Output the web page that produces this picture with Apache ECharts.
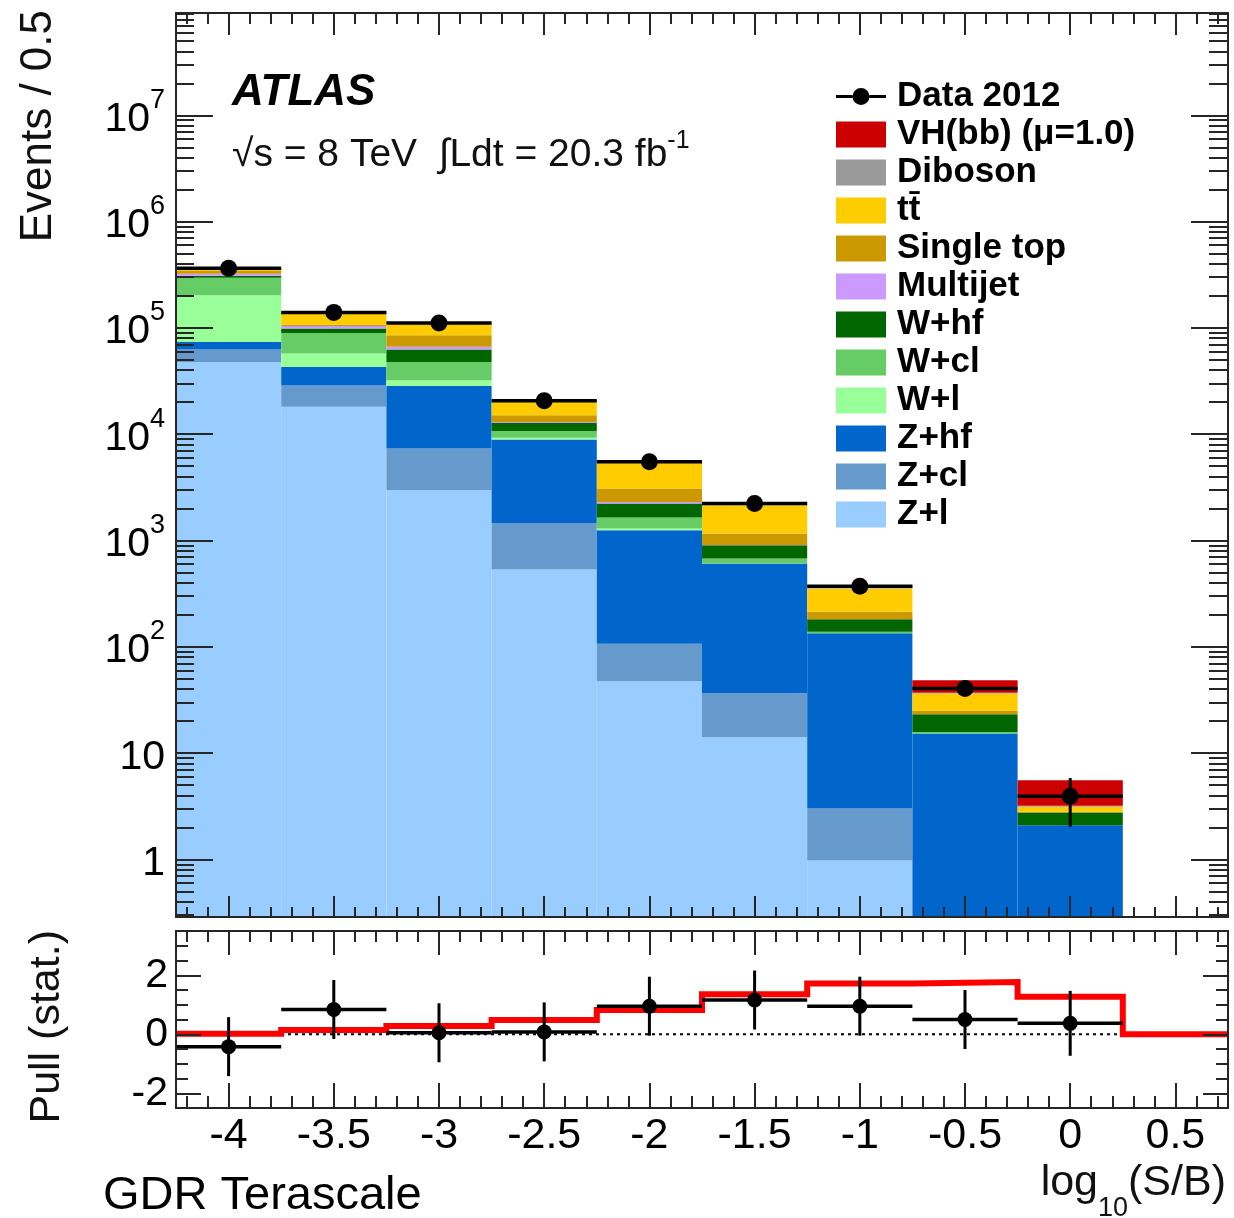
<!DOCTYPE html>
<html><head><meta charset="utf-8">
<script src="https://cdn.jsdelivr.net/npm/echarts@6/dist/echarts.min.js"></script>
<style>html,body{margin:0;padding:0;background:#fff}#c{width:1234px;height:1218px}</style>
</head><body><div id="c"></div>
<script>
// ---------- data ----------
const binCenters = [-4, -3.5, -3, -2.5, -2, -1.5, -1, -0.5, 0];
const binWidth = 0.5;
// background / signal components, events per bin (stack order bottom -> top)
const zl    = [47800, 18100, 2970, 534, 47.5, 14.1, 0.98, 0, 0];
const zcl   = [14700, 10600, 4360, 931, 59.5, 22.5, 2.04, 0, 0];
const zhf   = [11300, 14300, 21070, 7450, 1143, 571, 131, 15.3, 2.10];
const wl    = [129000, 14400, 3800, 350, 47, 5, 0.5, 0, 0];
const wcl   = [94000, 32200, 15700, 1480, 348, 65, 4, 0.5, 0];
const whf   = [13000, 9000, 14600, 2030, 583, 225, 43, 7.5, 0.67];
const mj    = [13000, 5400, 4000, 230, 79, 7, 0, 0, 0];
const stop  = [20000, 3000, 18800, 2100, 776, 254, 32, 1.8, 0.05];
const ttbar = [16000, 30000, 24700, 5000, 2287, 984, 141, 11.3, 0.31];
const dib   = [9000, 3000, 3000, 600, 140, 47, 14, 0.7, 0.07];
const vh    = [100, 50, 60, 30, 15, 12, 12, 11.4, 2.37];
// data 2012
const dataVals = [364000, 140000, 111000, 20700, 5500, 2230, 372, 40.6, 3.94];
const dataErr  = [603, 374, 333, 144, 74, 47, 19, 6.4, 1.9];
// pull panel
const pullVals = [-0.42, 0.84, 0.05, 0.08, 0.95, 1.16, 0.95, 0.50, 0.37];
const pullErr  = [1.0, 1.0, 1.0, 1.0, 1.0, 1.0, 1.0, 1.0, 1.1];
const sigCenters = [-4, -3.5, -3, -2.5, -2, -1.5, -1, -0.5, 0, 0.5];
const sigPull    = [0.02, 0.14, 0.28, 0.48, 0.82, 1.36, 1.72, 1.77, 1.27, 0];
// ticks
const xMajorTicks = [-4, -3.5, -3, -2.5, -2, -1.5, -1, -0.5, 0, 0.5];
const xTickLabels = ['-4', '-3.5', '-3', '-2.5', '-2', '-1.5', '-1', '-0.5', '0', '0.5'];
const yMajorTicks = [1, 10, 100, 1000, 10000, 100000, 1000000, 10000000];
const pullMajorTicks = [-2, 0, 2];
const pullTickLabels = ['-2', '0', '2'];

// ---------- axis config ----------
const xMin = -4.25, xMax = 0.75;
const yMin = 0.288, yMax = 9.16e7;
const pMin = -2.5, pMax = 3.5;
const xMinorTicks = []; for (let k = -42; k <= 7; k++) xMinorTicks.push(k / 10);
const yMinorTicks = [];
for (let e = -1; e <= 7; e++) for (let m = 2; m <= 9; m++) { const v = m * Math.pow(10, e); if (v > yMin && v < yMax) yMinorTicks.push(v); }
const pMinorTicks = []; for (let k = -5; k <= 7; k++) pMinorTicks.push(k * 0.5);

const FONT = '"Liberation Sans", Arial, Helvetica, sans-serif';
const frameColor = '#262626';

const layers = [
  { name: 'Z+l', v: zl, color: '#99ccff' },
  { name: 'Z+cl', v: zcl, color: '#6699cc' },
  { name: 'Z+hf', v: zhf, color: '#0066cc' },
  { name: 'W+l', v: wl, color: '#99ff99' },
  { name: 'W+cl', v: wcl, color: '#66cc66' },
  { name: 'W+hf', v: whf, color: '#006600' },
  { name: 'Multijet', v: mj, color: '#cc99ff' },
  { name: 'Single top', v: stop, color: '#cc9900' },
  { name: 'tt\u0304', v: ttbar, color: '#ffcc00' },
  { name: 'Diboson', v: dib, color: '#999999' },
  { name: 'VH(bb) (\u03bc=1.0)', v: vh, color: '#cc0000' }
];

function xAxisDef(gridIndex, position, ticks, len, showLine, withLabels) {
  return {
    type: 'value', gridIndex, position, min: xMin, max: xMax, z: 10,
    axisLine: { show: showLine, onZero: false, lineStyle: { color: frameColor, width: 2 } },
    axisTick: { show: true, inside: true, length: len, customValues: ticks, lineStyle: { color: frameColor, width: 2 } },
    axisLabel: withLabels ? {
      show: true, customValues: xMajorTicks, margin: 7,
      formatter: v => { const i = xMajorTicks.findIndex(t => Math.abs(t - v) < 1e-6); return i >= 0 ? xTickLabels[i] : ''; },
      fontSize: 43, fontFamily: FONT, color: '#000'
    } : { show: false },
    splitLine: { show: false }, axisPointer: { show: false }
  };
}
function yLogDef(position, ticks, len, showLine, withLabels) {
  return {
    type: 'log', logBase: 10, gridIndex: 0, position, min: yMin, max: yMax, z: 10,
    axisLine: { show: showLine, onZero: false, lineStyle: { color: frameColor, width: 2 } },
    axisTick: { show: true, inside: true, length: len, customValues: ticks, lineStyle: { color: frameColor, width: 2 } },
    axisLabel: withLabels ? {
      show: true, customValues: yMajorTicks, margin: 11,
      formatter: v => { const e = Math.round(Math.log10(v)); if (e === 0) return '{b|1}'; if (e === 1) return '{b|10}'; return '{b|10}{s|' + e + '}'; },
      rich: {
        b: { fontSize: 41, fontFamily: FONT, color: '#000', verticalAlign: 'top', padding: [12, 0, 4, 0] },
        s: { fontSize: 27, fontFamily: FONT, color: '#000', verticalAlign: 'top' }
      }
    } : { show: false },
    splitLine: { show: false }
  };
}
function yPullDef(position, ticks, len, showLine, withLabels) {
  return {
    type: 'value', gridIndex: 1, position, min: pMin, max: pMax, z: 10,
    axisLine: { show: showLine, onZero: false, lineStyle: { color: frameColor, width: 2 } },
    axisTick: { show: true, inside: true, length: len, customValues: ticks, lineStyle: { color: frameColor, width: 2 } },
    axisLabel: withLabels ? {
      show: true, customValues: pullMajorTicks, margin: 8,
      formatter: v => { const i = pullMajorTicks.findIndex(t => Math.abs(t - v) < 1e-6); return i >= 0 ? pullTickLabels[i] : ''; },
      fontSize: 41, fontFamily: FONT, color: '#000'
    } : { show: false },
    splitLine: { show: false }
  };
}

// ---------- series ----------
const series = [];
let base = binCenters.map(() => 0);
layers.forEach(L => {
  const upper = base.map((b, i) => b + L.v[i]);
  const lower = base.slice();
  series.push({
    type: 'custom', name: L.name, xAxisIndex: 0, yAxisIndex: 0, z: 2,
    itemStyle: { color: L.color }, silent: true, animation: false,
    encode: { x: 0, y: 2 },
    data: binCenters.map((c, i) => [c, lower[i], upper[i]]),
    renderItem(params, api) {
      const c = api.value(0), lo = api.value(1), hi = api.value(2);
      if (!(hi > lo) || !(hi > 0)) return null;
      const cs = params.coordSys;
      const p1 = api.coord([c - binWidth / 2, hi]);
      const p2 = api.coord([c + binWidth / 2, hi]);
      const bottom = cs.y + cs.height;
      let yLo = lo > 0 ? api.coord([c, lo])[1] : bottom;
      if (yLo > bottom) yLo = bottom;
      return { type: 'rect', shape: { x: p1[0], y: p1[1], width: p2[0] - p1[0], height: yLo - p1[1] }, style: { fill: L.color } };
    }
  });
  base = upper;
});

function pointsRender(lw, r) {
  return function (params, api) {
    const c = api.value(0), v = api.value(1), e = api.value(2);
    const pl = api.coord([c - binWidth / 2, v]), pr = api.coord([c + binWidth / 2, v]);
    const pc = api.coord([c, v]);
    const pt = api.coord([c, v + e]), pb = api.coord([c, v - e]);
    return { type: 'group', children: [
      { type: 'line', shape: { x1: pl[0], y1: pl[1], x2: pr[0], y2: pr[1] }, style: { stroke: '#000', lineWidth: lw } },
      { type: 'line', shape: { x1: pt[0], y1: pt[1], x2: pb[0], y2: pb[1] }, style: { stroke: '#000', lineWidth: 3 } },
      { type: 'circle', shape: { cx: pc[0], cy: pc[1], r }, style: { fill: '#000' } }
    ] };
  };
}
series.push({
  type: 'custom', name: 'Data 2012', xAxisIndex: 0, yAxisIndex: 0, z: 5,
  itemStyle: { color: '#000' }, silent: true, animation: false,
  encode: { x: 0, y: 1 },
  data: binCenters.map((c, i) => [c, dataVals[i], dataErr[i]]),
  renderItem: pointsRender(3.5, 8.5)
});
// pull panel
series.push({
  type: 'line', name: 'zero', xAxisIndex: 4, yAxisIndex: 4, z: 2, silent: true, animation: false,
  symbol: 'none', lineStyle: { color: '#000', width: 2, type: [3, 4] },
  data: [[xMin, 0], [xMax, 0]]
});
const sigData = sigCenters.map((c, i) => [c - binWidth / 2, sigPull[i]]);
sigData.push([sigCenters[sigCenters.length - 1] + binWidth / 2, sigPull[sigPull.length - 1]]);
series.push({
  type: 'line', name: 'sig', xAxisIndex: 4, yAxisIndex: 4, z: 3, silent: true, animation: false,
  step: 'end', symbol: 'none', lineStyle: { color: '#ff0000', width: 6, join: 'miter' },
  data: sigData
});
series.push({
  type: 'custom', name: 'pull', xAxisIndex: 4, yAxisIndex: 4, z: 5,
  itemStyle: { color: '#000' }, silent: true, animation: false,
  encode: { x: 0, y: 1 },
  data: binCenters.map((c, i) => [c, pullVals[i], pullErr[i]]),
  renderItem: pointsRender(3.5, 7.5)
});

const dataIcon = 'path://M0,7H16.5V10H0Z M33.5,7H50V10H33.5Z M16.5,8.5A8.5,8.5 0 1 1 33.5,8.5A8.5,8.5 0 1 1 16.5,8.5Z';
const legendData = [{ name: 'Data 2012', icon: dataIcon }];
for (let i = layers.length - 1; i >= 0; i--) legendData.push({ name: layers[i].name, icon: 'rect' });

const option = {
  animation: false,
  backgroundColor: '#fff',
  grid: [
    { left: 176, top: 13, width: 1052, height: 904 },
    { left: 176, top: 931, width: 1052, height: 177 }
  ],
  xAxis: [
    xAxisDef(0, 'bottom', xMajorTicks, 21, true, false),
    xAxisDef(0, 'bottom', xMinorTicks, 10, false, false),
    xAxisDef(0, 'top', xMajorTicks, 22, true, false),
    xAxisDef(0, 'top', xMinorTicks, 11, false, false),
    xAxisDef(1, 'bottom', xMajorTicks, 25, true, true),
    xAxisDef(1, 'bottom', xMinorTicks, 12, false, false),
    xAxisDef(1, 'top', xMajorTicks, 24, true, false),
    xAxisDef(1, 'top', xMinorTicks, 11, false, false)
  ],
  yAxis: [
    yLogDef('left', yMajorTicks, 37, true, true),
    yLogDef('left', yMinorTicks, 18, false, false),
    yLogDef('right', yMajorTicks, 37, true, false),
    yLogDef('right', yMinorTicks, 19, false, false),
    yPullDef('left', pullMajorTicks, 25, true, true),
    yPullDef('left', pMinorTicks, 12, false, false),
    yPullDef('right', pullMajorTicks, 25, true, false),
    yPullDef('right', pMinorTicks, 12, false, false)
  ],
  legend: {
    orient: 'vertical', left: 836, top: 79, padding: 0,
    itemWidth: 50, itemHeight: 26, itemGap: 3, selectedMode: false,
    textStyle: { fontSize: 35, fontWeight: 'bold', fontFamily: FONT, color: '#000', lineHeight: 34, padding: [0, 0, 0, 6] },
    data: legendData
  },
  graphic: [
    { type: 'text', x: 232, y: 93, silent: true, style: { text: 'ATLAS', fontSize: 44, fontWeight: 'bold', fontStyle: 'italic', fontFamily: FONT, fill: '#000', verticalAlign: 'middle' } },
    { type: 'text', x: 232, y: 152, silent: true, style: {
      text: '{n|\u221As = 8 TeV  \u222BLdt = 20.3 fb}{s|-1}', verticalAlign: 'middle',
      rich: { n: { fontSize: 39, fontFamily: FONT, fill: '#111', verticalAlign: 'top', padding: [7, 0, 0, 0] },
              s: { fontSize: 25, fontFamily: FONT, fill: '#111', verticalAlign: 'top' } } } },
    { type: 'text', x: 39, y: 10, rotation: Math.PI / 2, silent: true, style: { text: 'Events / 0.5', fontSize: 44, fontFamily: FONT, fill: '#111', align: 'right', verticalAlign: 'middle' } },
    { type: 'text', x: 47, y: 930, rotation: Math.PI / 2, silent: true, style: { text: 'Pull (stat.)', fontSize: 43, fontFamily: FONT, fill: '#111', align: 'right', verticalAlign: 'middle' } },
    { type: 'text', x: 1226, y: 1192, silent: true, style: {
      text: '{a|log}{s|10}{a|(S/B)}', align: 'right', verticalAlign: 'middle',
      rich: { a: { fontSize: 43, fontFamily: FONT, fill: '#111', verticalAlign: 'top' },
              s: { fontSize: 27, fontFamily: FONT, fill: '#111', verticalAlign: 'top', padding: [33, 0, 0, 0] } } } },
    { type: 'text', x: 103, y: 1196, silent: true, style: { text: 'GDR Terascale', fontSize: 47, fontFamily: FONT, fill: '#000', verticalAlign: 'middle' } }
  ],
  series
};
const chart = echarts.init(document.getElementById('c'), null, { renderer: 'canvas' });
chart.setOption(option);
</script></body></html>
